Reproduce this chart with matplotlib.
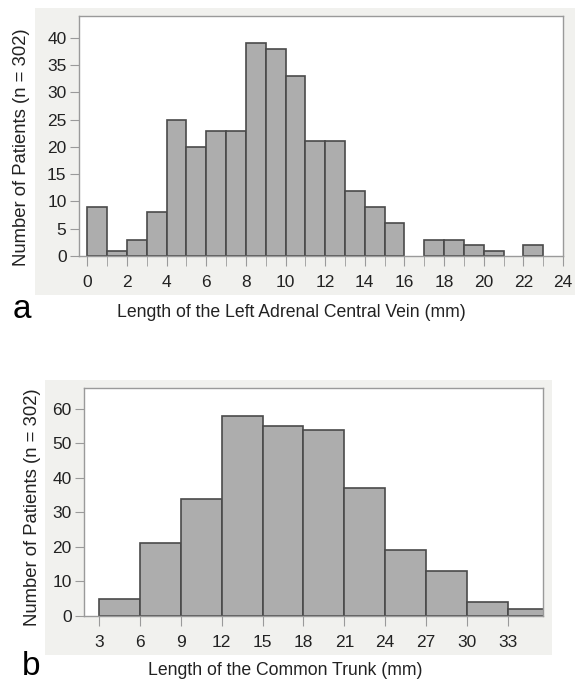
import matplotlib.pyplot as plt
import numpy as np

plt.rcParams['font.family'] = ['Liberation Sans', 'DejaVu Sans']

# Panel a: left adrenal central vein length, 1 mm bins
vein_edges = np.arange(0, 25)
vein_counts = [9, 1, 3, 8, 25, 20, 23, 23, 39, 38, 33, 21, 21, 12, 9, 6,
               0, 3, 3, 2, 1, 0, 2, 0]

# Panel b: common trunk length, 3 mm bins
trunk_edges = np.arange(3, 39, 3)
trunk_counts = [5, 21, 34, 58, 55, 54, 37, 19, 13, 4, 2]

ylabel = 'Number of Patients (n = 302)'
xlabel_a = 'Length of the Left Adrenal Central Vein (mm)'
xlabel_b = 'Length of the Common Trunk (mm)'

bar_color = '#adadad'
edge_color = '#4a4a4a'
spine_color = '#9a9a9a'
panel_color = '#f1f1ee'
text_color = '#222222'

fig = plt.figure(figsize=(5.75, 6.85), dpi=100)

# light grey backgrounds behind each plot (added first so they sit underneath)
bg1 = fig.add_axes([0.0609, 0.5693, 0.9391, 0.419])
bg2 = fig.add_axes([0.0783, 0.0438, 0.8817, 0.4015])
for bg in (bg1, bg2):
    bg.set_facecolor(panel_color)
    bg.set_xticks([])
    bg.set_yticks([])
    for s in bg.spines.values():
        s.set_visible(False)


def style(ax):
    ax.set_facecolor('white')
    for s in ax.spines.values():
        s.set_color(spine_color)
        s.set_linewidth(1.0)
    ax.tick_params(axis='both', which='both', color=spine_color, labelcolor=text_color,
                   labelsize=12.5)
    ax.tick_params(axis='x', which='both', length=7.5, pad=6)
    ax.tick_params(axis='y', which='both', length=6.5, pad=2.5)


def draw_hist(ax, edges, counts):
    lefts = edges[:-1]
    widths = np.diff(edges)
    for x, w, c in zip(lefts, widths, counts):
        if c > 0:
            ax.bar(x, c, width=w, align='edge', color=bar_color,
                   edgecolor=edge_color, linewidth=1.2, zorder=2)


def labels(ax, xl, yl, xpos, ypos):
    ax.set_xlabel(xl, fontsize=12.7, color=text_color)
    ax.set_ylabel(yl, fontsize=13.3, color=text_color)
    ax.xaxis.set_label_coords(*xpos)
    ax.yaxis.set_label_coords(*ypos)
    ax.xaxis.label.set_va('center')
    ax.yaxis.label.set_va('center')


# ---- panel a ----
ax1 = fig.add_axes([0.1374, 0.6263, 0.8417, 0.3504])
draw_hist(ax1, vein_edges, vein_counts)
ax1.set_xlim(-0.42, 24)
ax1.set_ylim(0, 44)
ax1.set_xticks(np.arange(0, 25, 2))
ax1.set_xticks(np.arange(1, 24, 2), minor=True)
ax1.set_yticks(np.arange(0, 41, 5))
style(ax1)
labels(ax1, xlabel_a, ylabel, (0.439, -0.2375), (-0.118, 0.454))
fig.text(0.022, 0.536, 'a', fontsize=24, color='black', va='baseline', ha='left')

# ---- panel b ----
ax2 = fig.add_axes([0.1461, 0.1007, 0.7988, 0.3328])
draw_hist(ax2, trunk_edges, trunk_counts)
ax2.set_xlim(1.9, 35.6)
ax2.set_ylim(0, 66)
ax2.set_xticks(np.arange(3, 34, 3))
ax2.set_yticks(np.arange(0, 61, 10))
style(ax2)
labels(ax2, xlabel_b, ylabel, (0.439, -0.241), (-0.113, 0.478))
fig.text(0.038, 0.0146, 'b', fontsize=24, color='black', va='baseline', ha='left')

fig.savefig('out.png', dpi=100, facecolor='white')
